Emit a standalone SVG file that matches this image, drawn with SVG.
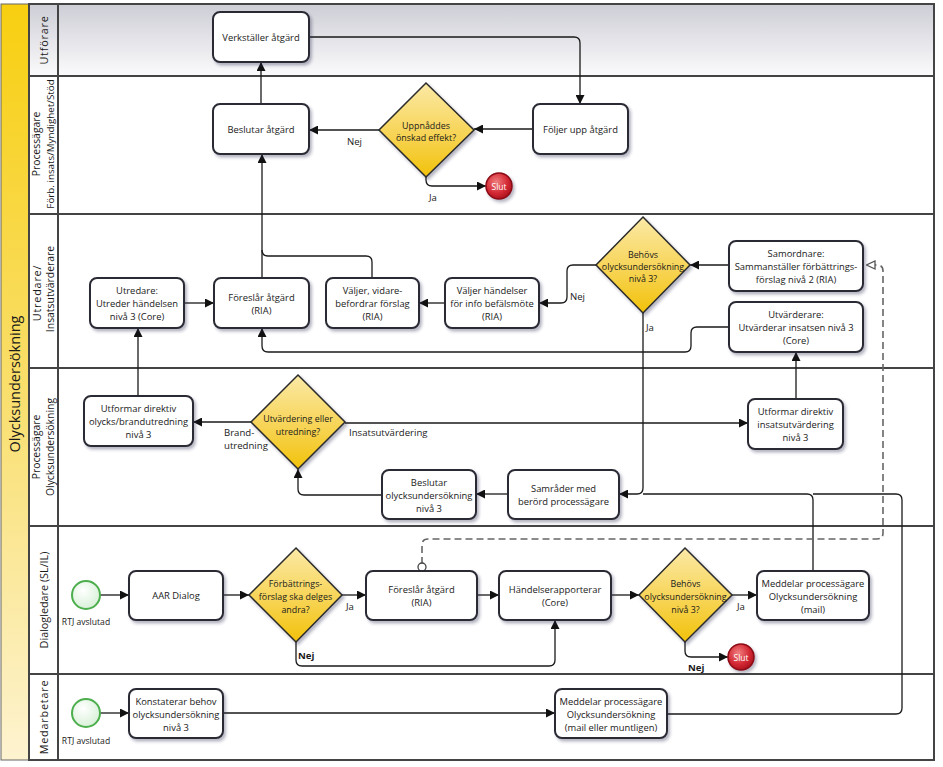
<svg xmlns="http://www.w3.org/2000/svg" width="943" height="767" viewBox="0 0 943 767">
<defs>
<linearGradient id="gPool" x1="0" y1="0" x2="0" y2="1"><stop offset="0" stop-color="#f8cf10"/><stop offset="0.5" stop-color="#f9de6a"/><stop offset="1" stop-color="#fdf3d0"/></linearGradient>
<linearGradient id="gTop" x1="0" y1="0" x2="0" y2="1"><stop offset="0" stop-color="#cdcdd6"/><stop offset="1" stop-color="#fbfbfc"/></linearGradient>
<linearGradient id="gDia" x1="0" y1="0" x2="0" y2="1"><stop offset="0" stop-color="#fbe9a6"/><stop offset="0.55" stop-color="#f7d455"/><stop offset="1" stop-color="#f2c20a"/></linearGradient>
<radialGradient id="gEnd" cx="0.4" cy="0.35" r="0.7"><stop offset="0" stop-color="#f08080"/><stop offset="0.6" stop-color="#d42a35"/><stop offset="1" stop-color="#a8101c"/></radialGradient>
<radialGradient id="gStart" cx="0.4" cy="0.35" r="0.7"><stop offset="0" stop-color="#ffffff"/><stop offset="1" stop-color="#d6f0d6"/></radialGradient>
<filter id="sh" x="-10%" y="-10%" width="130%" height="140%"><feDropShadow dx="2" dy="2.5" stdDeviation="1.6" flood-color="#2a2a50" flood-opacity="0.35"/></filter>
<marker id="arr" viewBox="0 0 10 10" refX="10" refY="5" markerWidth="9" markerHeight="9" orient="auto" markerUnits="userSpaceOnUse"><path d="M0,0 L10,5 L0,10 z" fill="#111"/></marker>
<marker id="open" viewBox="0 0 10 10" refX="10" refY="5" markerWidth="10" markerHeight="10" orient="auto" markerUnits="userSpaceOnUse"><path d="M1,1 L9.5,5 L1,9 z" fill="#fff" stroke="#555" stroke-width="1.3"/></marker>
</defs>
<style>
text{font-family:"Open Sans","Noto Sans","Liberation Sans",sans-serif;fill:#1a1a1a}
.t{font-size:9.4px;text-anchor:middle;dominant-baseline:central}
.d{font-size:8.9px;text-anchor:middle;dominant-baseline:central}
.lab{font-size:9.6px;dominant-baseline:central}
.lane{font-size:10.4px;text-anchor:middle;dominant-baseline:central}
.wide{font-size:10.8px;letter-spacing:0.8px}
.box{fill:#fff;stroke:#2b2b36;stroke-width:2;filter:url(#sh)}
.dia{fill:url(#gDia);stroke:#2b2b2b;stroke-width:1.5;filter:url(#sh)}
.sep{stroke:#444;stroke-width:2;fill:none}
.c{fill:none;stroke:#1a1a1a;stroke-width:1.3}
.ca{fill:none;stroke:#1a1a1a;stroke-width:1.3;marker-end:url(#arr)}
.dash{fill:none;stroke:#666;stroke-width:1.6;stroke-dasharray:7,4}
.end{fill:url(#gEnd);stroke:#8a0a14;stroke-width:1.5;filter:url(#sh)}
.endt{font-size:8.5px;fill:#fff;text-anchor:middle;dominant-baseline:central}
.start{fill:url(#gStart);stroke:#4cae4c;stroke-width:2}
.st{font-size:8.6px;text-anchor:middle;dominant-baseline:central}
</style>
<rect x="0" y="0" width="943" height="767" fill="#fff"/>
<g id="pool">
<rect x="1" y="4" width="28" height="756" fill="url(#gPool)" stroke="#666" stroke-width="1"/>
<text transform="translate(14,384) rotate(-90)" style="font-size:14.5px;text-anchor:middle;dominant-baseline:central">Olycksundersökning</text>
<rect x="29" y="4" width="905" height="72" fill="url(#gTop)"/>
<rect x="29" y="4" width="905" height="756" class="sep"/>
<line x1="58" y1="4" x2="58" y2="760" class="sep"/>
<line x1="29" y1="76" x2="934" y2="76" class="sep"/>
<line x1="29" y1="214" x2="934" y2="214" class="sep"/>
<line x1="29" y1="368" x2="934" y2="368" class="sep"/>
<line x1="29" y1="526" x2="934" y2="526" class="sep"/>
<line x1="29" y1="674" x2="934" y2="674" class="sep"/>
<text class="lane wide" transform="translate(43,40) rotate(-90)">Utförare</text>
<text class="lane" transform="translate(36,144) rotate(-90)">Processägare</text>
<text class="lane" transform="translate(50,144) rotate(-90)" style="font-size:9.8px">Förb. insats/Myndighet/Stöd</text>
<text class="lane wide" transform="translate(36,293) rotate(-90)">Utredare/</text>
<text class="lane" transform="translate(50,289) rotate(-90)">Insatsutvärderare</text>
<text class="lane" transform="translate(36,447) rotate(-90)">Processägare</text>
<text class="lane" transform="translate(50,447) rotate(-90)">Olycksundersökning</text>
<text class="lane" transform="translate(43,600) rotate(-90)" style="font-size:10.8px">Dialogledare (SL/IL)</text>
<text class="lane wide" transform="translate(43,717) rotate(-90)">Medarbetare</text>
</g>
<g id="connectors">
<path class="ca" d="M309,37 H574 Q580,37 580,43 V104"/>
<path class="ca" d="M261,104 V62"/>
<path class="ca" d="M262,278 V154"/>
<path class="c" d="M372,278 V262 Q372,256 366,256 H268 Q262,256 262,250"/>
<path class="ca" d="M533,129 H474"/>
<path class="ca" d="M379,130 H309"/>
<path class="ca" d="M426,177 V180 Q426,186 432,186 H486"/>
<path class="ca" d="M184,303 H214"/>
<path class="ca" d="M445,303 H419"/>
<path class="ca" d="M596,265 H573 Q567,265 567,271 V297 Q567,303 561,303 H539"/>
<path class="ca" d="M729,265 H690"/>
<path class="ca" d="M643,313 V488 Q643,494 637,494 H619"/>
<path class="ca" d="M729,327 H697 Q691,327 691,333 V346 Q691,352 685,352 H268 Q262,352 262,346 V328"/>
<path class="ca" d="M796,399 V352"/>
<path class="ca" d="M138,396 V328"/>
<path class="ca" d="M251,422 H193"/>
<path class="ca" d="M345,423 H748"/>
<path class="ca" d="M382,495 H304 Q298,495 298,489 V469"/>
<path class="ca" d="M508,494 H476"/>
<path class="c" d="M813,571 V500 Q813,494 807,494 H643"/>
<path class="c" d="M667,714 H896 Q902,714 902,708 V500 Q902,494 896,494 H813"/>
<path class="dash" d="M422,564 V545 Q422,539 428,539 H877 Q883,539 883,533 V271 Q883,265 877,265 H866" marker-end="url(#open)"/>
<circle cx="422" cy="567" r="4" fill="#fff" stroke="#444" stroke-width="1.3"/>
<path class="ca" d="M100,595 H129"/>
<path class="ca" d="M223,595 H249"/>
<path class="ca" d="M342,595 H366"/>
<path class="ca" d="M296,642 V660 Q296,666 302,666 H549 Q555,666 555,660 V620"/>
<path class="ca" d="M477,595 H499"/>
<path class="ca" d="M611,595 H639"/>
<path class="ca" d="M732,595 H757"/>
<path class="ca" d="M685,642 V651 Q685,657 691,657 H728"/>
<path class="ca" d="M100,713 H129"/>
<path class="ca" d="M223,713 H555"/>
<text class="lab" x="347" y="141">Nej</text>
<text class="lab" x="429" y="197">Ja</text>
<text class="lab" x="570" y="296">Nej</text>
<text class="lab" x="646" y="327">Ja</text>
<text class="lab" x="224" y="432">Brand-</text>
<text class="lab" x="224" y="445">utredning</text>
<text class="lab" x="349" y="432">Insatsutvärdering</text>
<text class="lab" x="346" y="606">Ja</text>
<text class="lab" x="298" y="655" style="font-weight:bold">Nej</text>
<text class="lab" x="737" y="606">Ja</text>
<text class="lab" x="688" y="667" style="font-weight:bold">Nej</text>
</g>
<g id="n-verkstaller"><rect class="box" x="213" y="12" width="96" height="50" rx="7"/><text class="t" x="261" y="37">Verkställer åtgärd</text></g>
<g id="n-beslutar-atgard"><rect class="box" x="213" y="104" width="96" height="50" rx="7"/><text class="t" x="261" y="129">Beslutar åtgärd</text></g>
<g id="n-foljer-upp"><rect class="box" x="533" y="104" width="95" height="50" rx="7"/><text class="t" x="580.5" y="129">Följer upp åtgärd</text></g>
<g id="n-uppnaddes"><polygon class="dia" points="426,83 474,130 426,177 379,130"/><text class="d" x="426" y="125">Uppnåddes</text><text class="d" x="426" y="137">önskad effekt?</text></g>
<g id="n-slut-1"><circle class="end" cx="499" cy="186" r="13"/><text class="endt" x="499" y="186">Slut</text></g>
<g id="n-utredare"><rect class="box" x="90" y="278" width="94" height="50" rx="7"/><text class="t" x="137" y="290">Utredare:</text><text class="t" x="137" y="303">Utreder händelsen</text><text class="t" x="137" y="316">nivå 3 (Core)</text></g>
<g id="n-foreslar-1"><rect class="box" x="214" y="278" width="95" height="50" rx="7"/><text class="t" x="261.5" y="297">Föreslår åtgärd</text><text class="t" x="261.5" y="310">(RIA)</text></g>
<g id="n-valjer-vidare"><rect class="box" x="326" y="278" width="93" height="50" rx="7"/><text class="t" x="372.5" y="290">Väljer, vidare-</text><text class="t" x="372.5" y="303">befordrar förslag</text><text class="t" x="372.5" y="316">(RIA)</text></g>
<g id="n-valjer-handelser"><rect class="box" x="445" y="278" width="94" height="50" rx="7"/><text class="t" x="492" y="290">Väljer händelser</text><text class="t" x="492" y="303">för info befälsmöte</text><text class="t" x="492" y="316">(RIA)</text></g>
<g id="n-behovs-1"><polygon class="dia" points="643,217 690,265 643,313 596,265"/><text class="d" x="643" y="254">Behövs</text><text class="d" x="643" y="266">olycksundersökning</text><text class="d" x="643" y="278">nivå 3?</text></g>
<g id="n-samordnare"><rect class="box" x="729" y="241" width="134" height="50" rx="7"/><text class="t" x="796" y="253">Samordnare:</text><text class="t" x="796" y="266">Sammanställer förbättrings-</text><text class="t" x="796" y="279">förslag nivå 2 (RIA)</text></g>
<g id="n-utvarderare"><rect class="box" x="729" y="302" width="134" height="50" rx="7"/><text class="t" x="796" y="314">Utvärderare:</text><text class="t" x="796" y="327">Utvärderar insatsen nivå 3</text><text class="t" x="796" y="340">(Core)</text></g>
<g id="n-direktiv-olycks"><rect class="box" x="84" y="396" width="109" height="50" rx="7"/><text class="t" x="138.5" y="408">Utformar direktiv</text><text class="t" x="138.5" y="421">olycks/brandutredning</text><text class="t" x="138.5" y="434">nivå 3</text></g>
<g id="n-utvardering-eller"><polygon class="dia" points="298,375 345,422 298,469 251,422"/><text class="d" x="298" y="418">Utvärdering eller</text><text class="d" x="298" y="431">utredning?</text></g>
<g id="n-direktiv-insats"><rect class="box" x="748" y="399" width="95" height="50" rx="7"/><text class="t" x="795.5" y="411">Utformar direktiv</text><text class="t" x="795.5" y="424">insatsutvärdering</text><text class="t" x="795.5" y="437">nivå 3</text></g>
<g id="n-beslutar-olycks"><rect class="box" x="382" y="470" width="94" height="49" rx="7"/><text class="t" x="429" y="482">Beslutar</text><text class="t" x="429" y="495">olycksundersökning</text><text class="t" x="429" y="508">nivå 3</text></g>
<g id="n-samrader"><rect class="box" x="508" y="470" width="111" height="49" rx="7"/><text class="t" x="563.5" y="488">Samråder med</text><text class="t" x="563.5" y="501">berörd processägare</text></g>
<g id="n-start-1"><circle class="start" cx="86" cy="595" r="14"/><text class="st" x="86" y="622">RTJ avslutad</text></g>
<g id="n-aar"><rect class="box" x="129" y="571" width="94" height="49" rx="7"/><text class="t" x="176" y="595">AAR Dialog</text></g>
<g id="n-forbattrings"><polygon class="dia" points="296,548 342,595 296,642 249,595"/><text class="d" x="295.5" y="583">Förbättrings-</text><text class="d" x="295.5" y="596">förslag ska delges</text><text class="d" x="295.5" y="609">andra?</text></g>
<g id="n-foreslar-2"><rect class="box" x="366" y="571" width="111" height="49" rx="7"/><text class="t" x="421.5" y="589">Föreslår åtgärd</text><text class="t" x="421.5" y="602">(RIA)</text></g>
<g id="n-handelserapporterar"><rect class="box" x="499" y="571" width="112" height="49" rx="7"/><text class="t" x="555" y="589">Händelserapporterar</text><text class="t" x="555" y="602">(Core)</text></g>
<g id="n-behovs-2"><polygon class="dia" points="685,548 732,595 685,642 639,595"/><text class="d" x="685.5" y="583">Behövs</text><text class="d" x="685.5" y="596">olycksundersökning</text><text class="d" x="685.5" y="609">nivå 3?</text></g>
<g id="n-meddelar-mail"><rect class="box" x="757" y="571" width="112" height="49" rx="7"/><text class="t" x="813" y="583">Meddelar processägare</text><text class="t" x="813" y="596">Olycksundersökning</text><text class="t" x="813" y="609">(mail)</text></g>
<g id="n-slut-2"><circle class="end" cx="741" cy="657" r="13"/><text class="endt" x="741" y="657">Slut</text></g>
<g id="n-start-2"><circle class="start" cx="86" cy="713" r="14"/><text class="st" x="86" y="741">RTJ avslutad</text></g>
<g id="n-konstaterar"><rect class="box" x="129" y="689" width="94" height="49" rx="7"/><text class="t" x="176" y="701">Konstaterar behov</text><text class="t" x="176" y="714">olycksundersökning</text><text class="t" x="176" y="727">nivå 3</text></g>
<g id="n-meddelar-muntligen"><rect class="box" x="555" y="689" width="112" height="49" rx="7"/><text class="t" x="611" y="701">Meddelar processägare</text><text class="t" x="611" y="714">Olycksundersökning</text><text class="t" x="611" y="727">(mail eller muntligen)</text></g>
</svg>
